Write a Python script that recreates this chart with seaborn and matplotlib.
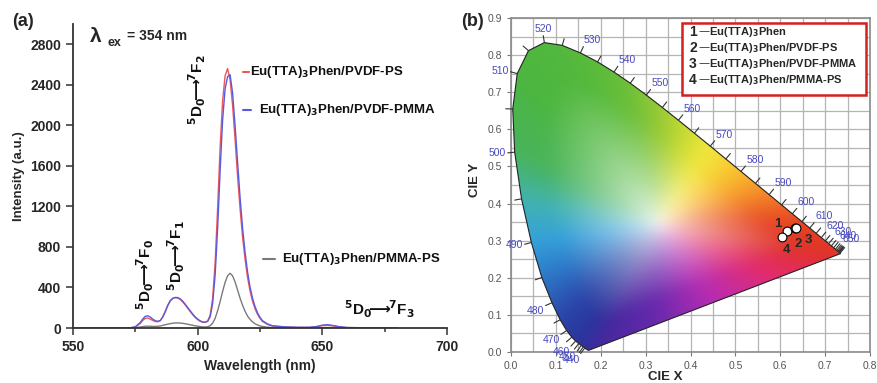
import numpy as np
import pandas as pd
import seaborn as sns
import matplotlib.pyplot as plt
from matplotlib.patches import Polygon, Rectangle
from matplotlib.lines import Line2D
from matplotlib.colors import to_rgb

# ---------------- data: emission spectra (panel a) ----------------
wavelength = [550, 560, 570, 573, 575, 577, 578, 579, 580,
              581, 582, 583, 584, 585, 586, 587, 588, 589, 590, 591, 592, 593,
              594, 595, 596, 597, 598, 599, 600, 601, 602, 603,
              604, 605, 606, 607, 608, 609, 610, 611, 612, 613, 614, 615,
              616, 617, 618, 619, 620, 621, 622, 623, 624, 625, 626,
              628, 630, 635, 640, 645, 648, 650, 652, 654, 657, 660, 670, 680]

pvdf_ps = [0, 0, 0, 2, 10, 45, 75, 95, 98,
           88, 74, 64, 62, 72, 110, 165, 225, 270, 292, 300, 296, 282,
           258, 228, 195, 163, 132, 105, 83, 67, 57, 55,
           68, 125, 290, 640, 1180, 1780, 2240, 2490, 2560, 2450, 2200, 1860,
           1500, 1180, 900, 680, 500, 365, 265, 190, 135, 95, 65,
           35, 20, 10, 6, 6, 14, 24, 28, 22, 10, 4, 1, 0]

pvdf_pmma = [0, 0, 0, 2, 12, 55, 90, 115, 120,
             108, 88, 72, 66, 74, 108, 160, 220, 268, 292, 302, 300, 288,
             265, 235, 202, 170, 138, 110, 88, 70, 60, 57,
             66, 110, 240, 520, 980, 1550, 2050, 2360, 2480, 2500, 2320, 2000,
             1640, 1290, 990, 750, 555, 405, 295, 212, 150, 105, 72,
             40, 22, 11, 7, 7, 16, 28, 32, 26, 12, 5, 1, 0]

pmma_ps = [0, 0, 0, 0, 3, 10, 14, 17, 18,
           17, 16, 16, 17, 20, 26, 32, 38, 43, 47, 50, 50, 49,
           46, 42, 37, 32, 27, 22, 18, 14, 11, 10,
           12, 22, 48, 95, 170, 260, 360, 450, 515, 540, 515, 455,
           375, 295, 225, 165, 118, 85, 60, 42, 30, 21, 15,
           8, 5, 2, 1, 1, 2, 4, 5, 4, 2, 1, 0, 0]

series_names = ["Eu(TTA)3Phen/PMMA-PS", "Eu(TTA)3Phen/PVDF-PS", "Eu(TTA)3Phen/PVDF-PMMA"]
series_colors = ["#7a7a7a", "#f05555", "#5a5ae0"]

# ---------------- data: CIE 1931 spectral locus (panel b) ----------------
locus_nm = list(range(380, 675, 5)) + [680, 690, 700]
locus_x = [0.1741, 0.1740, 0.1738, 0.1736, 0.1733, 0.1730, 0.1726, 0.1721, 0.1714, 0.1703,
           0.1689, 0.1669, 0.1644, 0.1611, 0.1566, 0.1510, 0.1440, 0.1355, 0.1241, 0.1096,
           0.0913, 0.0687, 0.0454, 0.0235, 0.0082, 0.0039, 0.0139, 0.0389, 0.0743, 0.1142,
           0.1547, 0.1929, 0.2296, 0.2658, 0.3016, 0.3373, 0.3731, 0.4087, 0.4441, 0.4788,
           0.5125, 0.5448, 0.5752, 0.6029, 0.6270, 0.6482, 0.6658, 0.6801, 0.6915, 0.7006,
           0.7079, 0.7140, 0.7190, 0.7230, 0.7260, 0.7283, 0.7300, 0.7311, 0.7320,
           0.7334, 0.7344, 0.7347]
locus_y = [0.0050, 0.0050, 0.0049, 0.0049, 0.0048, 0.0048, 0.0048, 0.0048, 0.0051, 0.0058,
           0.0069, 0.0086, 0.0109, 0.0138, 0.0177, 0.0227, 0.0297, 0.0399, 0.0578, 0.0868,
           0.1327, 0.2007, 0.2950, 0.4127, 0.5384, 0.6548, 0.7502, 0.8120, 0.8338, 0.8262,
           0.8059, 0.7816, 0.7543, 0.7243, 0.6923, 0.6589, 0.6245, 0.5896, 0.5547, 0.5202,
           0.4866, 0.4544, 0.4242, 0.3965, 0.3725, 0.3514, 0.3340, 0.3197, 0.3083, 0.2993,
           0.2920, 0.2859, 0.2809, 0.2770, 0.2740, 0.2717, 0.2700, 0.2689, 0.2680,
           0.2666, 0.2656, 0.2653]

sample_ids = ["1", "2", "3", "4"]
sample_names = ["Eu(TTA)3Phen", "Eu(TTA)3Phen/PVDF-PS", "Eu(TTA)3Phen/PVDF-PMMA", "Eu(TTA)3Phen/PMMA-PS"]
cie_x = [0.615, 0.632, 0.636, 0.603]
cie_y = [0.326, 0.333, 0.334, 0.311]

# edge colours of the chromaticity fill (by wavelength, then along the purple line)
edge_nm = [380, 440, 465, 475, 482, 488, 492, 496, 500, 510, 530, 545, 555, 563, 570,
           578, 585, 592, 600, 612, 700]
edge_col = ["#40289c", "#30309c", "#2a389e", "#2b44a8", "#2c62ba", "#2e90d6", "#3cb0e0",
            "#44b4a0", "#48b45c", "#4cb640", "#56ba3c", "#70c038", "#9ccc34", "#cddc34",
            "#f2e83c", "#fac832", "#f8a02c", "#f27828", "#ea5424", "#e43c26", "#e03224"]
purple_s = [0.0, 0.25, 0.5, 0.75, 1.0]
purple_col = ["#e03224", "#e42c6c", "#b82cb4", "#6428ac", "#40289c"]

# ---------------- style ----------------
sns.set_style("ticks")
plt.rcParams["font.family"] = ["Liberation Sans", "DejaVu Sans"]
plt.rcParams["font.weight"] = "bold"
plt.rcParams["mathtext.fontset"] = "dejavusans"
plt.rcParams["mathtext.default"] = "bf"

W, H = 877, 383


def fx(px):
    return px / W


def fy(py):
    return 1 - py / H


def blur(img, sigma):
    k = np.exp(-0.5 * (np.arange(-3 * sigma, 3 * sigma + 1) / sigma) ** 2)
    k /= k.sum()
    p = len(k) // 2
    out = np.pad(img, ((p, p), (p, p), (0, 0)), mode="edge")
    out = np.apply_along_axis(lambda v: np.convolve(v, k, "valid"), 0, out)
    out = np.apply_along_axis(lambda v: np.convolve(v, k, "valid"), 1, out)
    return out


fig = plt.figure(figsize=(W / 100, H / 100), dpi=100)
ax1 = fig.add_axes([fx(73), fy(328), 374 / W, 304 / H])
ax2 = fig.add_axes([fx(511), fy(352), 359 / W, 334 / H])

# ---------------- panel (a) ----------------
n = len(wavelength)
df = pd.DataFrame({
    "wl": wavelength * 3,
    "I": pmma_ps + pvdf_ps + pvdf_pmma,
    "sample": [series_names[0]] * n + [series_names[1]] * n + [series_names[2]] * n,
})
sns.lineplot(data=df, x="wl", y="I", hue="sample", hue_order=series_names,
             palette=dict(zip(series_names, series_colors)), lw=1.0, legend=False, ax=ax1)
ax1.set_xlim(550, 700)
ax1.set_ylim(0, 3000)
ax1.set_xticks([550, 600, 650, 700])
ax1.set_xticks([575, 625, 675], minor=True)
ax1.set_yticks(range(0, 3000, 400))
sns.despine(ax=ax1)
for s in ["left", "bottom"]:
    ax1.spines[s].set_linewidth(1.3)
    ax1.spines[s].set_color("#333333")
ax1.tick_params(which="both", labelsize=10, width=1.1, color="#333333")
ax1.tick_params(which="major", length=5)
ax1.tick_params(which="minor", length=3)
ax1.set_xlabel("Wavelength (nm)", fontsize=10, fontweight="bold")
ax1.set_ylabel("Intensity (a.u.)", fontsize=9.5, fontweight="bold", labelpad=4)
for lab in ax1.get_xticklabels() + ax1.get_yticklabels():
    lab.set_fontweight("bold")

arrow_lbl = r"$^5$D$_0$$\!\!\longrightarrow\!\!$$^7$F$_%s$"
trans_kw = dict(fontsize=11, fontweight="bold", color="#111111")
ax1.text(579, 175, arrow_lbl % "0", rotation=90, ha="center", va="bottom", **trans_kw)
ax1.text(591.5, 370, arrow_lbl % "1", rotation=90, ha="center", va="bottom", **trans_kw)
ax1.text(600, 2000, arrow_lbl % "2", rotation=90, ha="center", va="bottom", **trans_kw)
ax1.text(658.5, 180, arrow_lbl % "3", ha="left", va="center", **trans_kw)

# line-sample labels
leg_pos = [(263, 275, 282, 259), (243, 249, 250, 72), (243, 251, 259, 110)]
for (x0, x1, xt, yy), name, col in zip(leg_pos, series_names, series_colors):
    fig.add_artist(Line2D([fx(x0), fx(x1)], [fy(yy), fy(yy)], color=col, lw=1.5))
    fig.text(fx(xt), fy(yy), name.replace("3Phen", "$_3$Phen"), fontsize=9.5,
             fontweight="bold", ha="left", va="center", color="#111111")

fig.text(fx(90), fy(37), "λ", fontsize=15, fontweight="bold", ha="left", va="center")
fig.text(fx(107), fy(43), "ex", fontsize=9, fontweight="bold", ha="left", va="center")
fig.text(fx(127), fy(36), "= 354 nm", fontsize=10, fontweight="bold", ha="left", va="center")
fig.text(fx(12), fy(21), "(a)", fontsize=13, fontweight="bold", ha="left", va="center")
fig.text(fx(461), fy(22), "(b)", fontsize=13, fontweight="bold", ha="left", va="center")

# ---------------- panel (b) ----------------
ax2.set_xlim(0, 0.8)
ax2.set_ylim(0, 0.9)
ax2.set_xticks(np.arange(0, 0.81, 0.1))
ax2.set_yticks(np.arange(0, 0.91, 0.1))
ax2.set_xticks(np.arange(0.05, 0.8, 0.1), minor=True)
ax2.set_yticks(np.arange(0.05, 0.9, 0.1), minor=True)
ax2.set_xticklabels([f"{v:.1f}" for v in np.arange(0, 0.81, 0.1)])
ax2.set_yticklabels([f"{v:.1f}" for v in np.arange(0, 0.91, 0.1)])
ax2.grid(which="both", color="#b4b4b4", lw=0.9)
ax2.set_axisbelow(True)
for s in ax2.spines.values():
    s.set_color("#8a8a8a")
    s.set_linewidth(1.2)
ax2.tick_params(which="both", labelsize=7.5, labelcolor="#555555", color="#777777", length=3)
ax2.tick_params(which="minor", length=0)
for lab in ax2.get_xticklabels() + ax2.get_yticklabels():
    lab.set_fontweight("normal")
ax2.set_xlabel("CIE X", fontsize=9.5, fontweight="bold")
ax2.set_ylabel("CIE Y", fontsize=9.5, fontweight="bold")
ax2.xaxis.set_label_coords(0.43, -0.058)
ax2.yaxis.set_label_coords(-0.083, 0.515)

# chromaticity colour field: edge colours blended radially towards white
wx, wy = 0.33, 0.345
pur = np.linspace(0, 1, 30)[1:-1]
bx = np.concatenate([locus_x, locus_x[-1] + pur * (locus_x[0] - locus_x[-1])])
by = np.concatenate([locus_y, locus_y[-1] + pur * (locus_y[0] - locus_y[-1])])
ecol = np.array([to_rgb(c) for c in edge_col])
pcol = np.array([to_rgb(c) for c in purple_col])
bcol = np.vstack([
    np.column_stack([np.interp(locus_nm, edge_nm, ecol[:, k]) for k in range(3)]),
    np.column_stack([np.interp(pur, purple_s, pcol[:, k]) for k in range(3)]),
])
bth = np.arctan2(by - wy, bx - wx)
bd = np.hypot(bx - wx, by - wy)
order = np.argsort(bth)
bth, bd, bcol = bth[order], bd[order], bcol[order]

gx, gy = np.meshgrid(np.linspace(0, 0.8, 320), np.linspace(0, 0.9, 360))
th = np.arctan2(gy - wy, gx - wx)
r = np.hypot(gx - wx, gy - wy) / np.interp(th, bth, bd, period=2 * np.pi)
t = np.clip(r * 1.3, 0, 1) ** 0.65
col = np.stack([np.interp(th, bth, bcol[:, k], period=2 * np.pi) for k in range(3)], axis=-1)
rgb = np.clip(blur(1 + t[..., None] * (col - 1), 7), 0, 1)

poly = Polygon(np.column_stack([locus_x, locus_y]), closed=True, fc="none",
               ec="#222222", lw=0.8, zorder=3)
ax2.add_patch(poly)
im = ax2.imshow(rgb, extent=[0, 0.8, 0, 0.9], origin="lower", aspect="auto",
                interpolation="bilinear", zorder=2)
im.set_clip_path(poly)

# wavelength ticks along the locus
sx, sy = 359 / 0.8, 334 / 0.9
lx, ly = np.array(locus_x), np.array(locus_y)
for i, nm in enumerate(locus_nm):
    if nm < 440 or nm > 680:
        continue
    dx = (lx[i + 1] - lx[i - 1]) * sx
    dy = (ly[i + 1] - ly[i - 1]) * sy
    nx, ny = dy, -dx
    norm = np.hypot(nx, ny)
    nx, ny = nx / norm, ny / norm
    if nx * (lx[i] - 0.33) * sx + ny * (ly[i] - 0.33) * sy < 0:
        nx, ny = -nx, -ny
    x1, y1 = lx[i] + nx * 7 / sx, ly[i] + ny * 7 / sy
    ax2.plot([lx[i], x1], [ly[i], y1], color="#333333", lw=0.8, zorder=3, clip_on=False)
    if nm % 10 == 0 and nm <= 650:
        ha = "left" if nx > 0.35 else ("right" if nx < -0.35 else "center")
        va = "bottom" if ny > 0.35 else ("top" if ny < -0.35 else "center")
        ax2.text(x1 + nx * 1.5 / sx, y1 + ny * 1.5 / sy, str(nm), fontsize=7.5,
                 fontweight="normal", color="#4848c0", ha=ha, va=va, zorder=4, clip_on=False)

sns.scatterplot(x=cie_x, y=cie_y, s=40, color="white", edgecolor="black",
                linewidth=0.8, ax=ax2, zorder=6)
id_pos = [(0.595, 0.345), (0.641, 0.292), (0.663, 0.302), (0.613, 0.275)]
for sid, (tx, ty) in zip(sample_ids, id_pos):
    ax2.text(tx, ty, sid, fontsize=9.5, fontweight="bold", ha="center", va="center", zorder=7)

# sample key box
ax2.add_patch(Rectangle((0.381, 0.693), 0.410, 0.194, fc="white", ec="#d42020", lw=1.8,
                        zorder=8, clip_on=False))
for k, (sid, name) in enumerate(zip(sample_ids, sample_names)):
    yk = 0.862 - k * 0.043
    ax2.text(0.397, yk, sid, fontsize=10, fontweight="bold", ha="left", va="center", zorder=9)
    ax2.text(0.416, yk, "\u2014" + name.replace("3Phen", "$_3$Phen"), fontsize=8,
             fontweight="bold", ha="left", va="center", zorder=9)

fig.savefig("out.png", dpi=100)
